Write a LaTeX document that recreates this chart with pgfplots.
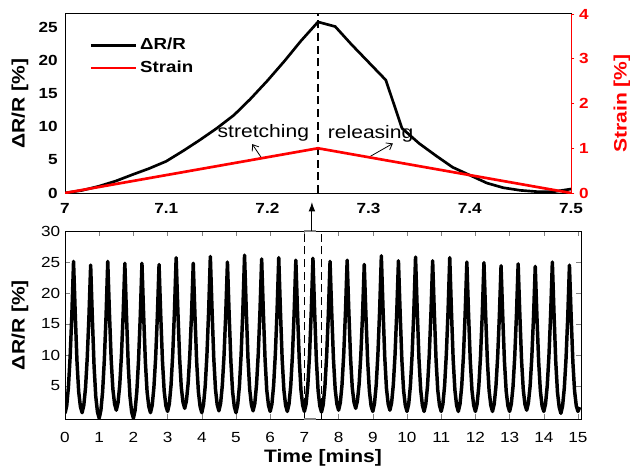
\documentclass[border=0pt]{standalone}
\usepackage{fontspec}
\setmainfont{Liberation Sans}[FakeStretch=1.17]
\usepackage{pgfplots}
\pgfplotsset{compat=1.18}
\usetikzlibrary{arrows.meta}
\definecolor{sred}{RGB}{255,0,0}

\begin{document}
\begin{tikzpicture}
\useasboundingbox (0,0) rectangle (472.5pt,351.75pt);

% ---------------- top plot, left axis ----------------
\begin{axis}[
  at={(48.75pt,207pt)}, anchor=south west, scale only axis,
  width=379.5pt, height=134.25pt,
  xmin=7, xmax=7.5, ymin=0, ymax=27.1,
  xtick={7,7.1,7.2,7.3,7.4,7.5},
  xticklabels={7,7.1,7.2,7.3,7.4,7.5},
  ytick={0,5,10,15,20,25},
  major tick length=0pt,
  /pgf/number format/assume math mode=true,
  tick label style={font=\fontsize{11}{13}\selectfont\bfseries},
  xticklabel style={yshift=-4.5pt},
  yticklabel style={xshift=-2pt},
  axis line style={line width=0.75pt},
  ylabel={ΔR/R [\%]},
  every axis y label/.style={at={(axis description cs:-0.089,0.5)}, rotate=90, anchor=center,
     font=\fontsize{13.5}{16}\selectfont\bfseries},
]
\addplot[black, line width=2pt] coordinates {
(7.000,0.0) (7.017,0.4) (7.033,1.0) (7.050,1.8) (7.067,2.8) (7.083,3.7)
(7.100,4.8) (7.117,6.4) (7.133,8.0) (7.150,9.8) (7.167,11.8) (7.183,14.2)
(7.200,17.0) (7.217,20.0) (7.233,23.0) (7.250,25.9) (7.267,25.2) (7.283,22.5)
(7.300,19.8) (7.317,17.1) (7.333,9.8) (7.350,7.5) (7.367,5.6) (7.383,3.9)
(7.400,2.7) (7.417,1.5) (7.433,0.8) (7.450,0.4) (7.467,0.2) (7.483,0.2) (7.500,0.6)
};
\draw[dash pattern=on 6pt off 3.5pt, line width=0.8pt] (axis cs:7.25,0) -- (axis cs:7.25,27.1);
\node[font=\fontsize{13.5}{16}\selectfont] at (axis cs:7.196,9.1) {stretching};
\node[font=\fontsize{13.5}{16}\selectfont] at (axis cs:7.302,8.9) {releasing};
\draw[-{Straight Barb[length=4pt,width=6pt]}, line width=0.6pt] (axis cs:7.1947,5.2) -- (axis cs:7.185,7.4);
\draw[-{Straight Barb[length=4pt,width=6pt]}, line width=0.6pt] (axis cs:7.300,5.4) -- (axis cs:7.324,7.5);
\end{axis}

% ---------------- top plot, right axis ----------------
\begin{axis}[
  at={(48.75pt,207pt)}, anchor=south west, scale only axis,
  width=379.5pt, height=134.25pt,
  xmin=7, xmax=7.5, ymin=0, ymax=4,
  axis x line=none, axis y line*=right,
  ytick={0,1,2,3,4},
  tick align=outside, major tick length=2.5pt,
  ytick style={sred, line width=0.75pt},
  y axis line style={sred, line width=0.75pt},
  /pgf/number format/assume math mode=true,
  yticklabel style={sred, font=\fontsize{11}{13}\selectfont\bfseries},
  ylabel={Strain [\%]},
  every axis y label/.style={at={(axis description cs:1.1008,0.5)}, rotate=90, anchor=center,
     text=sred, font=\fontsize{13.5}{16}\selectfont\bfseries},
  legend style={at={(axis description cs:0.04,0.895)}, anchor=north west, draw=none, fill=none,
    font=\fontsize{12}{14}\selectfont\bfseries, row sep=3pt},
  legend cell align=left,
  legend image code/.code={\draw[#1] (0pt,0pt) -- (34pt,0pt);},
]
\addlegendimage{black, line width=2pt}
\addlegendentry{ΔR/R}
\addplot[sred, line width=2pt] coordinates {(7,0) (7.25,1) (7.5,0)};
\addlegendentry{Strain}
\end{axis}

% ---------------- bottom plot ----------------
\begin{axis}[
  at={(48.75pt,37.5pt)}, anchor=south west, scale only axis,
  width=387pt, height=141pt,
  xmin=0, xmax=15.088, ymin=-0.32, ymax=30,
  xtick={0,1,2,3,4,5,6,7,8,9,10,11,12,13,14,15},
  ytick={5,10,15,20,25,30},
  tick align=inside, major tick length=3.75pt,
  /pgf/number format/assume math mode=true,
  tick label style={font=\fontsize{11}{13}\selectfont},
  xticklabel style={yshift=-6.5pt},
  axis line style={line width=0.75pt},
  xlabel={Time [mins]},
  ylabel={ΔR/R [\%]},
  every axis x label/.style={at={(axis description cs:0.5,0)}, anchor=north, yshift=-19.5pt,
     font=\fontsize{13.5}{16}\selectfont\bfseries},
  every axis y label/.style={at={(axis description cs:-0.0872,0.5)}, rotate=90, anchor=center,
     font=\fontsize{13.5}{16}\selectfont\bfseries},
]
\addplot[black, line width=2.6pt, line join=round] coordinates {
(0,0.6) (0.05,1.8) (0.1,4.8) (0.15,9.7) (0.2,16.5) (0.25,25.1) (0.3,16.6) (0.35,9.0) (0.4,4.1) (0.45,1.7)
(0.5,0.7) (0.55,1.9) (0.6,4.7) (0.65,9.5) (0.7,16.2) (0.75,24.5) (0.8,15.9) (0.85,8.2) (0.9,3.3) (0.95,0.8)
(1,-0.2) (1.05,1.1) (1.1,4.1) (1.15,9.2) (1.2,16.2) (1.25,25.1) (1.3,16.7) (1.35,9.3) (1.4,4.5) (1.45,2.1)
(1.5,1.1) (1.55,2.3) (1.6,5.1) (1.65,9.9) (1.7,16.5) (1.75,24.8) (1.8,16.1) (1.85,8.3) (1.9,3.3) (1.95,0.8)
(2,-0.2) (2.05,1.1) (2.1,4.1) (2.15,9.1) (2.2,16.1) (2.25,24.8) (2.3,16.4) (2.35,8.9) (2.4,4.1) (2.45,1.7)
(2.5,0.7) (2.55,1.9) (2.6,4.8) (2.65,9.5) (2.7,16.2) (2.75,24.6) (2.8,16.3) (2.85,9.0) (2.9,4.2) (2.95,1.8)
(3,0.9) (3.05,2.1) (3.1,5.1) (3.15,10.1) (3.2,17.0) (3.25,25.7) (3.3,17.2) (3.35,9.7) (3.4,4.8) (3.45,2.4)
(3.5,1.4) (3.55,2.6) (3.6,5.4) (3.65,10.1) (3.7,16.6) (3.75,24.8) (3.8,16.4) (3.85,8.9) (3.9,4.1) (3.95,1.7)
(4,0.7) (4.05,2.0) (4.1,5.0) (4.15,10.0) (4.2,17.1) (4.25,25.9) (4.3,17.2) (4.35,9.5) (4.4,4.5) (4.45,2.0)
(4.5,1.0) (4.55,2.2) (4.6,5.1) (4.65,9.9) (4.7,16.6) (4.75,25.0) (4.8,16.5) (4.85,9.0) (4.9,4.1) (4.95,1.7)
(5,0.7) (5.05,2.0) (5.1,5.0) (5.15,10.1) (5.2,17.2) (5.25,26.1) (5.3,17.3) (5.35,9.5) (5.4,4.5) (5.45,2.0)
(5.5,1.0) (5.55,2.2) (5.6,5.2) (5.65,10.1) (5.7,16.9) (5.75,25.5) (5.8,16.9) (5.85,9.3) (5.9,4.3) (5.95,1.9)
(6,0.9) (6.05,2.1) (6.1,5.1) (6.15,10.1) (6.2,17.0) (6.25,25.7) (6.3,17.0) (6.35,9.3) (6.4,4.4) (6.45,1.9)
(6.5,0.9) (6.55,2.1) (6.6,5.0) (6.65,9.9) (6.7,16.8) (6.75,25.3) (6.8,16.8) (6.85,9.2) (6.9,4.3) (6.95,1.9)
(7,0.9) (7.05,2.1) (7.1,5.1) (7.15,10.0) (7.2,17.0) (7.25,25.6) (7.3,16.9) (7.35,9.2) (7.4,4.3) (7.45,1.8)
(7.5,0.8) (7.55,2.0) (7.6,4.9) (7.65,9.8) (7.7,16.6) (7.75,25.1) (7.8,16.7) (7.85,9.3) (7.9,4.5) (7.95,2.1)
(8,1.1) (8.05,2.3) (8.1,5.2) (8.15,10.1) (8.2,16.8) (8.25,25.3) (8.3,16.9) (8.35,9.5) (8.4,4.7) (8.45,2.4)
(8.5,1.4) (8.55,2.6) (8.6,5.3) (8.65,10.0) (8.7,16.5) (8.75,24.6) (8.8,16.3) (8.85,9.0) (8.9,4.2) (8.95,1.8)
(9,0.9) (9.05,2.2) (9.1,5.2) (9.15,10.2) (9.2,17.2) (9.25,26.0) (9.3,17.3) (9.35,9.6) (9.4,4.6) (9.45,2.1)
(9.5,1.1) (9.55,2.3) (9.6,5.2) (9.65,10.0) (9.7,16.8) (9.75,25.2) (9.8,16.7) (9.85,9.2) (9.9,4.3) (9.95,1.9)
(10,0.9) (10.05,2.1) (10.1,5.1) (10.15,10.1) (10.2,17.1) (10.25,25.8) (10.3,17.1) (10.35,9.4) (10.4,4.4) (10.45,1.9)
(10.5,0.9) (10.55,2.1) (10.6,5.0) (10.65,9.9) (10.7,16.7) (10.75,25.2) (10.8,16.7) (10.85,9.2) (10.9,4.3) (10.95,1.9)
(11,0.9) (11.05,2.1) (11.1,5.1) (11.15,10.1) (11.2,17.0) (11.25,25.7) (11.3,17.0) (11.35,9.3) (11.4,4.4) (11.45,1.9)
(11.5,0.9) (11.55,2.1) (11.6,5.0) (11.65,9.8) (11.7,16.6) (11.75,25.0) (11.8,16.6) (11.85,9.1) (11.9,4.3) (11.95,1.9)
(12,0.9) (12.05,2.1) (12.1,5.0) (12.15,9.8) (12.2,16.5) (12.25,24.9) (12.3,16.5) (12.35,9.1) (12.4,4.3) (12.45,1.9)
(12.5,0.9) (12.55,2.1) (12.6,4.9) (12.65,9.6) (12.7,16.2) (12.75,24.4) (12.8,16.2) (12.85,8.9) (12.9,4.2) (12.95,1.8)
(13,0.9) (13.05,2.1) (13.1,4.9) (13.15,9.7) (13.2,16.4) (13.25,24.7) (13.3,16.4) (13.35,9.1) (13.4,4.4) (13.45,2.0)
(13.5,1.1) (13.55,2.3) (13.6,5.0) (13.65,9.7) (13.7,16.2) (13.75,24.3) (13.8,16.1) (13.85,8.9) (13.9,4.2) (13.95,1.8)
(14,0.9) (14.05,2.1) (14.1,5.0) (14.15,9.8) (14.2,16.6) (14.25,25.0) (14.3,16.5) (14.35,8.9) (14.4,4.0) (14.45,1.6)
(14.5,0.6) (14.55,1.8) (14.6,4.7) (14.65,9.4) (14.7,16.1) (14.75,24.5) (14.8,16.2) (14.85,8.9) (14.9,4.2) (14.95,1.8)
(15,0.9) (15.05,1.6)
};
\draw[dash pattern=on 6pt off 3.5pt, line width=0.8pt] (axis cs:7,-0.32) -- (axis cs:7,30);
\draw[dash pattern=on 6pt off 3.5pt, line width=0.8pt] (axis cs:7.5,-0.32) -- (axis cs:7.5,30);
\coordinate (gtl) at (axis cs:7,30);
\coordinate (gtr) at (axis cs:7.35,30);
\coordinate (gbl) at (axis cs:7,-0.32);
\coordinate (gbr) at (axis cs:7.35,-0.32);
\coordinate (arrbase) at (axis cs:7.22,30);
\end{axis}
\draw[gray, line width=1.3pt] (gtl) -- (gtr);
\draw[gray, line width=1.3pt] (gbl) -- (gbr);
\draw[-{Latex[length=7pt,width=5pt]}, line width=0.8pt] (arrbase) -- ++(0,21.75pt);
\end{tikzpicture}
\end{document}
